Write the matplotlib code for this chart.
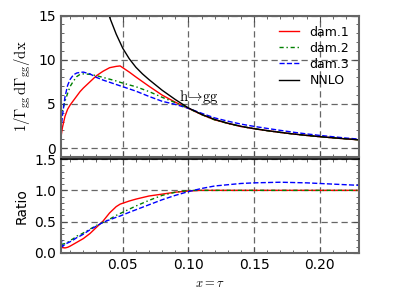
import numpy as np
import matplotlib
matplotlib.use("Agg")
import matplotlib.pyplot as plt
from matplotlib.ticker import MultipleLocator, AutoMinorLocator

plt.rcParams['mathtext.fontset'] = 'cm'

# x grid shared by the damped curves
xs = [0.003, 0.004, 0.006, 0.008, 0.01, 0.0125, 0.015, 0.0175, 0.02, 0.025, 0.03,
      0.035, 0.04, 0.045, 0.048, 0.055, 0.06, 0.07, 0.08, 0.09, 0.10, 0.11, 0.12,
      0.13, 0.14, 0.15, 0.16, 0.17, 0.18, 0.19, 0.20, 0.21, 0.22, 0.23]

dam1 = [1.3, 2.3, 3.6, 4.4, 4.9, 5.4, 5.9, 6.4, 6.8, 7.5, 8.2, 8.7, 9.1, 9.25, 9.3,
        8.6, 8.05, 7.0, 6.0, 5.2, 4.5, 3.8, 3.2, 2.8, 2.45, 2.2, 1.98, 1.78, 1.6,
        1.44, 1.3, 1.17, 1.05, 0.94]
dam2 = [3.4, 4.2, 5.3, 6.2, 7.0, 7.6, 8.1, 8.35, 8.4, 8.35, 8.2, 8.0, 7.8, 7.6, 7.45,
        7.15, 6.95, 6.4, 5.75, 5.15, 4.5, 3.8, 3.2, 2.8, 2.45, 2.2, 1.98, 1.78, 1.6,
        1.44, 1.3, 1.17, 1.05, 0.94]
dam3 = [2.0, 3.6, 5.8, 7.1, 7.8, 8.3, 8.5, 8.57, 8.6, 8.4, 8.0, 7.7, 7.45, 7.2, 7.05,
        6.7, 6.45, 5.85, 5.3, 4.95, 4.5, 3.95, 3.42, 3.05, 2.72, 2.46, 2.23, 2.01,
        1.8, 1.61, 1.44, 1.29, 1.14, 1.02]

ratio1 = [0.12, 0.085, 0.08, 0.09, 0.11, 0.14, 0.17, 0.2, 0.23, 0.31, 0.41, 0.51,
          0.64, 0.74, 0.78, 0.83, 0.86, 0.91, 0.94, 0.97, 0.99, 1.0, 1.0, 1.0, 1.0,
          1.0, 1.0, 1.0, 1.0, 1.0, 1.0, 1.0, 1.0, 1.0]
ratio2 = [0.14, 0.14, 0.15, 0.17, 0.2, 0.23, 0.27, 0.29, 0.32, 0.38, 0.44, 0.49,
          0.54, 0.6, 0.63, 0.7, 0.75, 0.84, 0.92, 0.97, 1.0, 1.0, 1.0, 1.0, 1.0,
          1.0, 1.0, 1.0, 1.0, 1.0, 1.0, 1.0, 1.0, 1.0]
ratio3 = [0.25, 0.1, 0.14, 0.16, 0.18, 0.21, 0.245, 0.27, 0.3, 0.37, 0.43, 0.49,
          0.53, 0.57, 0.59, 0.65, 0.69, 0.77, 0.85, 0.92, 0.98, 1.03, 1.07, 1.09,
          1.11, 1.12, 1.125, 1.13, 1.125, 1.12, 1.11, 1.1, 1.09, 1.08]

# NNLO on its own grid (off scale at small x)
x_nnlo = [0.02, 0.03, 0.035, 0.04, 0.045, 0.05, 0.055, 0.06, 0.065, 0.07, 0.08, 0.09,
          0.10, 0.11, 0.12, 0.13, 0.14, 0.15, 0.16, 0.17, 0.18, 0.19, 0.20, 0.21,
          0.22, 0.23]
nnlo = [31, 20.5, 17.2, 14.8, 12.9, 11.3, 10.1, 9.15, 8.4, 7.75, 6.55, 5.5, 4.55,
        3.82, 3.25, 2.82, 2.47, 2.2, 1.98, 1.78, 1.6, 1.44, 1.3, 1.17, 1.05, 0.94]

fig = plt.figure(figsize=(3.99, 2.99), dpi=100)
ax1 = fig.add_axes([0.153, 0.475, 0.747, 0.473])
ax2 = fig.add_axes([0.153, 0.154, 0.747, 0.314])

green_ls = (0, (3, 2, 1, 2))
ax1.plot(xs, dam1, color='r', lw=1.0, label='dam.1')
ax1.plot(xs, dam2, color='g', lw=1.0, ls=green_ls, label='dam.2')
ax1.plot(xs, dam3, color='b', lw=1.0, ls='--', label='dam.3')
ax1.plot(x_nnlo, nnlo, color='k', lw=1.0, label='NNLO')

ax2.plot(xs, ratio1, color='r', lw=1.0)
ax2.plot(xs, ratio2, color='g', lw=1.0, ls=green_ls)
ax2.plot(xs, ratio3, color='b', lw=1.0, ls='--')

ax1.set_xlim(0.003, 0.23)
ax2.set_xlim(0.003, 0.23)
ax1.set_ylim(-1, 15)
ax2.set_ylim(0, 1.5)

ax1.yaxis.set_major_locator(MultipleLocator(5))
ax2.yaxis.set_major_locator(MultipleLocator(0.5))
for ax in (ax1, ax2):
    ax.xaxis.set_major_locator(MultipleLocator(0.05))
    ax.xaxis.set_minor_locator(MultipleLocator(0.01))
    ax.yaxis.set_minor_locator(AutoMinorLocator(5))
    ax.tick_params(which='both', direction='in', top=True, right=True,
                   labelsize=10, color='0.3')
    ax.tick_params(which='major', length=4)
    ax.tick_params(which='minor', length=2)
    ax.grid(True, which='major', ls=(0, (5, 3)), color='0.4', lw=0.9)
    for s in ax.spines.values():
        s.set_color('0.4')
        s.set_linewidth(1.5)
ax2.spines['top'].set_color('k')
ax2.spines['top'].set_linewidth(1.2)
ax1.tick_params(labelbottom=False)
ax1.set_yticks([0, 5, 10, 15])
ax2.set_yticks([0.0, 0.5, 1.0, 1.5])
ax2.set_yticklabels(['0.0', '0.5', '1.0', '1.5'])
ax2.set_xticks([0.05, 0.10, 0.15, 0.20])
ax2.set_xticklabels(['0.05', '0.10', '0.15', '0.20'])

ax1.set_ylabel(r'$1/\Gamma_{\rm gg}\,{\rm d}\Gamma_{\rm gg}/{\rm dx}$', fontsize=10.5)
ax2.set_ylabel('Ratio', fontsize=10)
ax2.set_xlabel(r'$x=\tau$', fontsize=9)
ax1.text(0.093, 5.3, r'$\mathrm{h}\!\rightarrow\!\mathrm{gg}$', fontsize=10.5)

ax1.legend(loc='upper right', frameon=False, fontsize=9, handlelength=1.6,
           labelspacing=0.25, borderaxespad=0.4)

fig.savefig('out.png', dpi=100)
